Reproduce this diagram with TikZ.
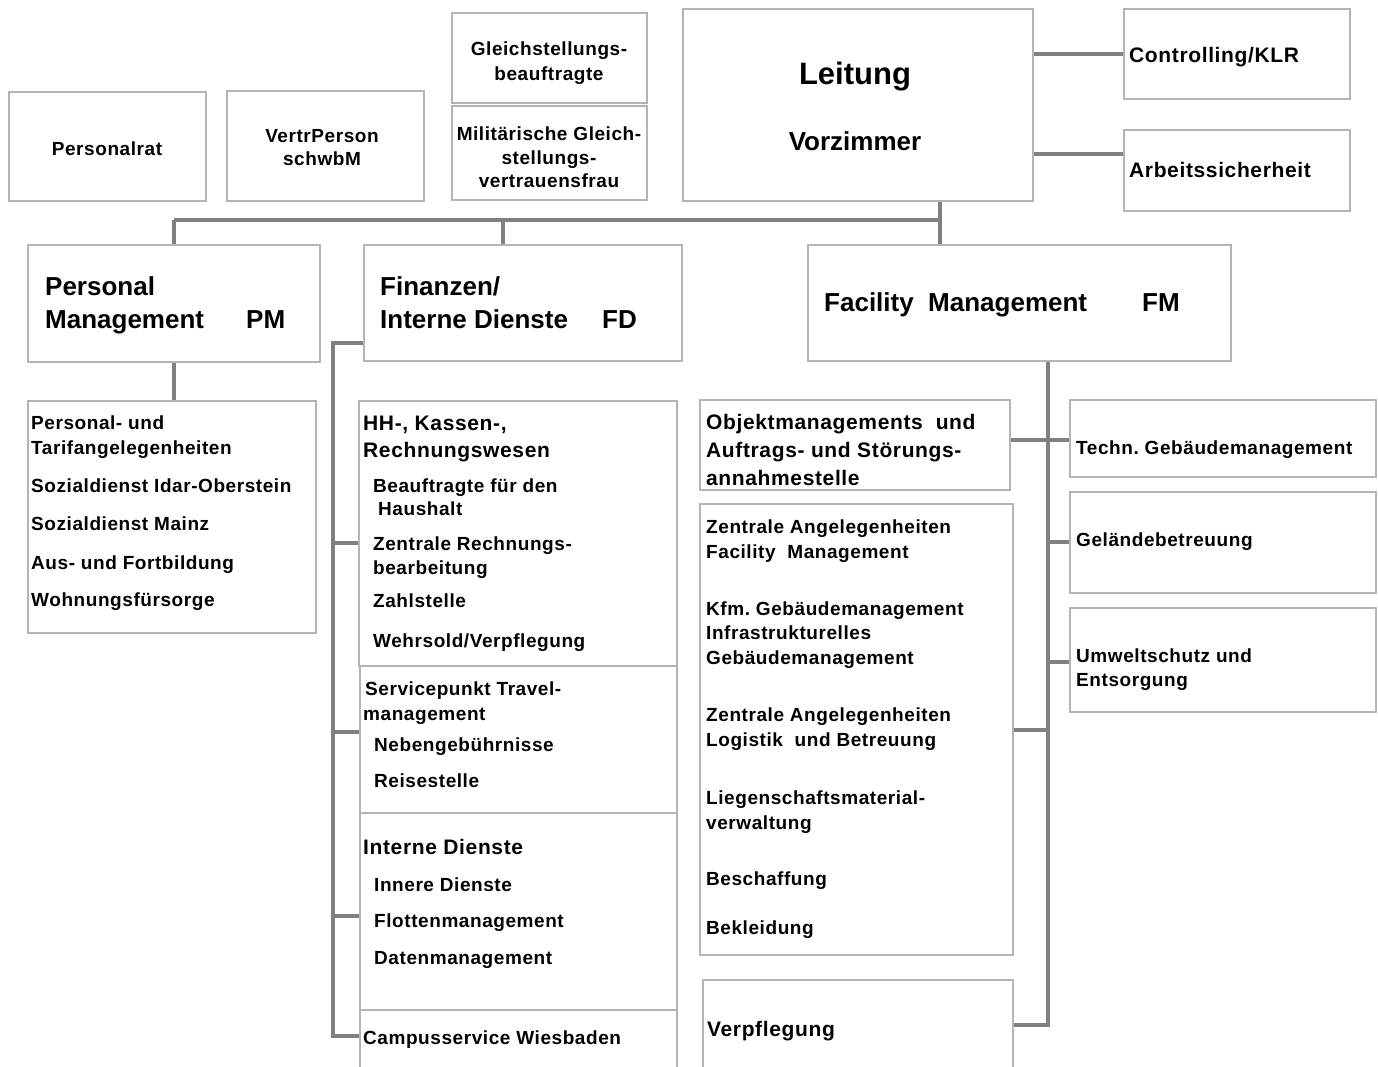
\documentclass[tikz,border=0pt]{standalone}
\usepackage{fontspec}
\setmainfont{Liberation Sans}
\newfontfamily\spfont{Liberation Sans}[LetterSpace=3]
\usetikzlibrary{fit}
\frenchspacing
\definecolor{boxc}{RGB}{180,180,180}
\definecolor{linec}{RGB}{128,128,128}
\newcommand\fSm{\frenchspacing\spfont\bfseries\fontsize{19}{22}\selectfont}
\newcommand\fMd{\frenchspacing\spfont\bfseries\fontsize{21}{24}\selectfont}
\newcommand\fLg{\bfseries\fontsize{26}{30}\selectfont}
\newcommand\fXl{\bfseries\fontsize{31}{36}\selectfont}
\tikzset{
  box/.style={draw=boxc, line width=2.7pt, fill=white, inner sep=0pt},
  conn/.style={draw=linec, line width=4pt},
  tS/.style={inner sep=0pt, anchor=mid west, yshift=-5pt, font=\fSm},
  tM/.style={inner sep=0pt, anchor=mid west, yshift=-5pt, font=\fMd},
  tL/.style={inner sep=0pt, anchor=mid west, yshift=-6pt, font=\fLg},
}
\begin{document}
\begin{tikzpicture}[x=1pt,y=-1pt]
\useasboundingbox[fill=white] (0,0) rectangle (1378,1067);
% ---- top row
\node[box,fit={(9,92)(206,201)}] (prat) {};
\node[tS,anchor=mid] (tprat) at (107,148) {Personalrat};
\node[box,fit={(227,91)(424,201)}] (vp) {};
\node[tS,anchor=mid] (tvp1) at (322,135) {VertrPerson};
\node[tS,anchor=mid] (tvp2) at (322,158) {schwbM};
\node[box,fit={(452,13)(647,103)}] (gb) {};
\node[tS,anchor=mid] (tgb1) at (549,48) {Gleichstellungs-};
\node[tS,anchor=mid] (tgb2) at (549,73) {beauftragte};
\node[box,fit={(452,106)(647,200)}] (mg) {};
\node[tS,anchor=mid] (tmg1) at (549,133) {Militärische Gleich-};
\node[tS,anchor=mid] (tmg2) at (549,157) {stellungs-};
\node[tS,anchor=mid] (tmg3) at (549,180) {vertrauensfrau};
\node[box,fit={(683,9)(1033,201)}] (leit) {};
\node[inner sep=0pt,anchor=mid,yshift=-7pt,font=\fXl] (tleit) at (855,75) {Leitung};
\node[tL,anchor=mid] (tvz) at (855,142) {Vorzimmer};
\node[box,fit={(1124,9)(1350,99)}] (ctrl) {};
\node[tM] (tctrl) at (1129,55) {Controlling/KLR};
\node[box,fit={(1124,130)(1350,211)}] (arb) {};
\node[tM] (tarb) at (1129,170) {Arbeitssicherheit};
% ---- main departments
\node[box,fit={(28,245)(320,362)}] (pm) {};
\node[tL] (tpm1) at (45,287) {Personal};
\node[tL] (tpm2) at (45,320) {Management};
\node[tL] (tpm3) at (246,320) {PM};
\node[box,fit={(364,245)(682,361)}] (fd) {};
\node[tL] (tfd1) at (380,287) {Finanzen/};
\node[tL] (tfd2) at (380,320) {Interne Dienste};
\node[tL] (tfd3) at (602,320) {FD};
\node[box,fit={(808,245)(1231,361)}] (fm) {};
\node[tL] (tfm1) at (824,303) {Facility\ \ Management};
\node[tL] (tfm2) at (1142,303) {FM};
% ---- PM sub
\node[box,fit={(28,401)(316,633)}] (pmsub) {};
\node[tS] (p1) at (31,422) {Personal- und};
\node[tS] (p2) at (31,447) {Tarifangelegenheiten};
\node[tS] (p3) at (31,485) {Sozialdienst Idar-Oberstein};
\node[tS] (p4) at (31,523) {Sozialdienst Mainz};
\node[tS] (p5) at (31,562) {Aus- und Fortbildung};
\node[tS] (p6) at (31,599) {Wohnungsfürsorge};
% ---- FD sub
\node[box,fit={(359,401)(677,666)}] (hh) {};
\node[tM] (h1) at (363,423) {HH-, Kassen-,};
\node[tM] (h2) at (363,450) {Rechnungswesen};
\node[tS] (h3) at (373,485) {Beauftragte für den};
\node[tS] (h4) at (378,508) {Haushalt};
\node[tS] (h5) at (373,543) {Zentrale Rechnungs-};
\node[tS] (h6) at (373,567) {bearbeitung};
\node[tS] (h7) at (373,600) {Zahlstelle};
\node[tS] (h8) at (373,640) {Wehrsold/Verpflegung};
\node[box,fit={(360,666)(677,813)}] (svc) {};
\node[tS] (s1) at (365,688) {Servicepunkt Travel-};
\node[tS] (s2) at (363,713) {management};
\node[tS] (s3) at (374,744) {Nebengebührnisse};
\node[tS] (s4) at (374,780) {Reisestelle};
\node[box,fit={(360,813)(677,1010)}] (idn) {};
\node[tM] (i1) at (363,847) {Interne Dienste};
\node[tS] (i2) at (374,884) {Innere Dienste};
\node[tS] (i3) at (374,920) {Flottenmanagement};
\node[tS] (i4) at (374,957) {Datenmanagement};
\node[box,fit={(360,1010)(677,1090)}] (camp) {};
\node[tS] (c1) at (363,1037) {Campusservice Wiesbaden};
% ---- FM sub
\node[box,fit={(700,400)(1010,490)}] (obj) {};
\node[tM] (o1) at (706,422) {Objektmanagements\ \ und};
\node[tM] (o2) at (706,450) {Auftrags- und Störungs-};
\node[tM] (o3) at (706,478) {annahmestelle};
\node[box,fit={(700,504)(1013,955)}] (zen) {};
\node[tS] (z1) at (706,526) {Zentrale Angelegenheiten};
\node[tS] (z2) at (706,551) {Facility\ \ Management};
\node[tS] (z3) at (706,608) {Kfm. Gebäudemanagement};
\node[tS] (z4) at (706,632) {Infrastrukturelles};
\node[tS] (z5) at (706,657) {Gebäudemanagement};
\node[tS] (z6) at (706,714) {Zentrale Angelegenheiten};
\node[tS] (z7) at (706,739) {Logistik\ \ und Betreuung};
\node[tS] (z8) at (706,797) {Liegenschaftsmaterial-};
\node[tS] (z9) at (706,822) {verwaltung};
\node[tS] (z10) at (706,878) {Beschaffung};
\node[tS] (z11) at (706,927) {Bekleidung};
\node[box,fit={(703,980)(1013,1090)}] (verpf) {};
\node[tM] (v1) at (707,1029) {Verpflegung};
\node[box,fit={(1070,400)(1376,477)}] (techn) {};
\node[tS] (r1) at (1076,447) {Techn. Gebäudemanagement};
\node[box,fit={(1070,492)(1376,593)}] (gel) {};
\node[tS] (r2) at (1076,539) {Geländebetreuung};
\node[box,fit={(1070,608)(1376,712)}] (umw) {};
\node[tS] (r3) at (1076,655) {Umweltschutz und};
\node[tS] (r4) at (1076,679) {Entsorgung};
% ---- helper coordinates
\coordinate (y154) at (0,154);
\coordinate (bar) at (0,220);
\coordinate (trx) at (940,0);
\coordinate (fdx) at (503,0);
\coordinate (fdsp) at (333,343);
\coordinate (y543) at (0,543);
\coordinate (y732) at (0,732);
\coordinate (y916) at (0,916);
\coordinate (y1036) at (0,1036);
\coordinate (fmx) at (1048,0);
\coordinate (y440) at (0,440);
\coordinate (y542) at (0,542);
\coordinate (y662) at (0,662);
\coordinate (y730) at (0,730);
\coordinate (y1025) at (0,1025);
% ---- connectors
\draw[conn] (leit.east |- ctrl.west) -- (ctrl.west);
\draw[conn] (leit.east |- y154) -- (arb.west |- y154);
\draw[conn] (trx |- leit.south) -- (trx |- fm.north);
\draw[conn] (pm.north |- bar) -- (trx |- bar);
\draw[conn] (pm.north |- bar) -- (pm.north);
\draw[conn] (fdx |- bar) -- (fdx |- fd.north);
\draw[conn] (pm.south) -- (pm.south |- pmsub.north);
\draw[conn] (fd.west |- fdsp) -- (fdsp) -- (fdsp |- y1036) -- (camp.west |- y1036);
\draw[conn] (fdsp |- y543) -- (hh.west |- y543);
\draw[conn] (fdsp |- y732) -- (svc.west |- y732);
\draw[conn] (fdsp |- y916) -- (idn.west |- y916);
\draw[conn] (fmx |- fm.south) -- (fmx |- y1025) -- (verpf.east |- y1025);
\draw[conn] (obj.east |- y440) -- (techn.west |- y440);
\draw[conn] (fmx |- y542) -- (gel.west |- y542);
\draw[conn] (fmx |- y662) -- (umw.west |- y662);
\draw[conn] (zen.east |- y730) -- (fmx |- y730);
\end{tikzpicture}
\end{document}
